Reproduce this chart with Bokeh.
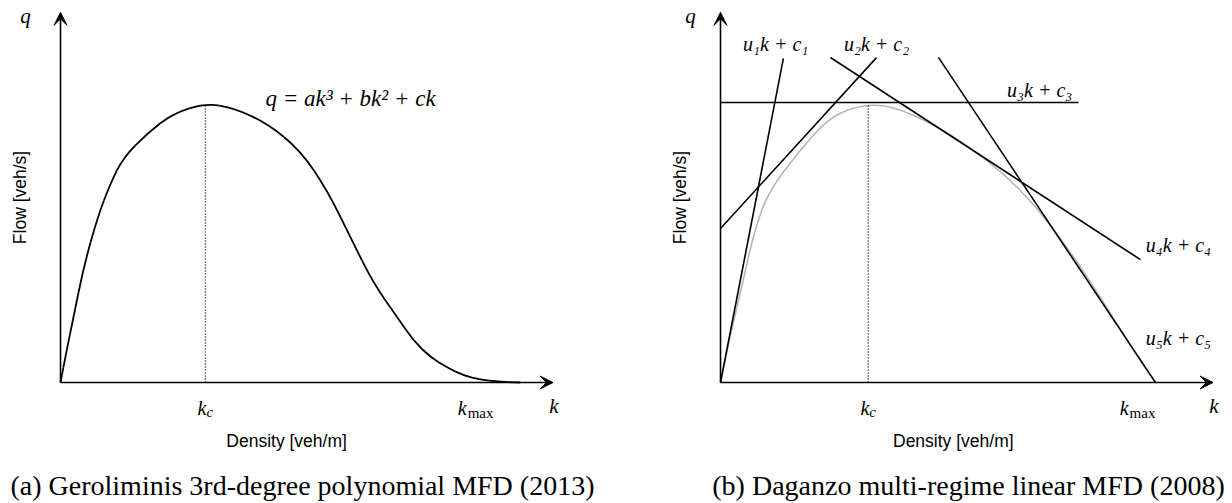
from bokeh.plotting import figure
from bokeh.layouts import row
from bokeh.models import Arrow, VeeHead
from bokeh.core.properties import value
from bokeh.embed import file_html
from bokeh.resources import INLINE
import math

# ---------------- data (arbitrary density / flow units) ----------------
# (a) Geroliminis 3rd-degree polynomial MFD
a_density = [0, 1.2, 2.7, 4.8, 7.7, 10.4, 13.1, 18.1, 23.5, 30.2, 36.0, 43.1, 50.0, 55.6,
             60.4, 65.2, 70.2, 73.5, 77.1, 80.6, 84.0, 87.5, 91.0, 95.8]
a_flow = [0, 6.5, 14.0, 24.7, 35.5, 42.8, 48.4, 53.6, 57.9, 60.0, 59.1, 55.7, 49.9, 41.3,
          31.2, 21.3, 14.0, 9.0, 5.4, 3.2, 1.5, 0.6, 0.2, 0]
a_kc = 30.2
a_qc = 60.0
a_kmax = 86.7

# (b) Daganzo multi-regime linear MFD
b_density = [0, 2.1, 4.6, 6.9, 9.8, 16.0, 22.9, 30.8, 37.5, 47.9, 58.3, 65.2, 72.3, 79.2, 86.0, 90.6]
b_flow = [0, 10.5, 21.3, 32.0, 40.7, 49.3, 57.4, 60.0, 58.9, 53.6, 45.6, 38.5, 29.0, 18.3, 6.9, 0]
b_kc = 30.8
b_qc = 60.0
b_kmax = 87.1
regime_u = [5.32, 1.131, 0.0, -0.673, -1.546]
regime_c = [0.0, 33.1, 60.2, 85.3, 140.1]
regime_k_from = [0.0, 0.0, 0.0, 22.9, 45.4]
regime_k_to = [13.1, 32.5, 74.6, 87.5, 90.6]
regime_labels = ["u₁k + c₁", "u₂k + c₂", "u₃k + c₃", "u₄k + c₄", "u₅k + c₅"]

axis_k_end = 102.6
axis_q_end = 79.6

captions = ["(a) Geroliminis 3rd-degree polynomial MFD (2013)",
            "(b) Daganzo multi-regime linear MFD (2008)"]

# ---------------- layout constants ----------------
SX, SY = 4.8, 4.65          # px per unit
W, H = 616, 503
ORIGIN_Y = 382

SERIF = value("Liberation Serif")
SANS = value("Liberation Sans")


def make_panel(origin_x):
    p = figure(width=W, height=H, output_backend="svg", toolbar_location=None,
               x_range=(-origin_x / SX, (W - origin_x) / SX),
               y_range=(-(H - ORIGIN_Y) / SY, ORIGIN_Y / SY),
               x_axis_location=None, y_axis_location=None,
               min_border=0, min_border_left=0, min_border_right=0,
               min_border_top=0, min_border_bottom=0)
    p.outline_line_color = None
    p.xgrid.visible = False
    p.ygrid.visible = False
    p.background_fill_color = "white"
    p.border_fill_color = "white"
    for xe, ye in [(axis_k_end, 0), (0, axis_q_end)]:
        p.add_layout(Arrow(end=VeeHead(size=13, fill_color="black", line_color="black", line_width=1),
                           x_start=0, y_start=0, x_end=xe, y_end=ye,
                           line_width=1.6, line_color="black"))
    return p


def smooth_curve(p, xs, ys, **kw):
    """Smooth rendering of the read points with quadratic Bezier pieces (library glyph)."""
    mx = [(xs[i] + xs[i + 1]) / 2 for i in range(len(xs) - 1)]
    my = [(ys[i] + ys[i + 1]) / 2 for i in range(len(ys) - 1)]
    p.segment(x0=[xs[0], mx[-1]], y0=[ys[0], my[-1]], x1=[mx[0], xs[-1]], y1=[my[0], ys[-1]], **kw)
    p.quadratic(x0=mx[:-1], y0=my[:-1], x1=mx[1:], y1=my[1:],
                cx=xs[1:-1], cy=ys[1:-1], **kw)


def txt(p, x, y, s, size, style="italic", font=SERIF, align="center", x_off=0, y_off=0, angle=0):
    p.text(x=[x], y=[y], text=[s], text_font=font, text_font_style=style,
           text_font_size=size, text_align=align, text_baseline="middle",
           x_offset=x_off, y_offset=y_off, angle=angle, text_color="black")


def common_labels(p, kc, kmax, density_x, q_off, caption, caption_x):
    lab_y = -25 / SY
    # k_c
    txt(p, kc, lab_y, "k", "20px", align="right", x_off=1)
    txt(p, kc, lab_y, "c", "15px", align="left", x_off=1, y_off=4)
    # k_max
    txt(p, kmax, lab_y, "k", "20px", align="right", x_off=-10)
    txt(p, kmax, lab_y, "max", "15px", style="normal", align="left", x_off=-9, y_off=5)
    # axis names
    txt(p, axis_k_end, lab_y + 0.4, "k", "21px", x_off=1)
    txt(p, 0, axis_q_end - 0.7, "q", "21px", x_off=q_off)
    # axis titles
    txt(p, density_x, -58 / SY, "Density [veh/m]", "17.5px", style="normal", font=SANS)
    txt(p, 0, (ORIGIN_Y - 197) / SY, "Flow [veh/s]", "17.5px", style="normal", font=SANS,
        x_off=-41, angle=math.pi / 2)
    # caption
    txt(p, caption_x, -103 / SY, caption, "28px", style="normal")


# ---------------- panel (a) ----------------
pa = make_panel(60)
smooth_curve(pa, a_density, a_flow, line_color="black", line_width=1.8)
pa.segment(x0=[a_kc], y0=[0], x1=[a_kc], y1=[a_qc], line_color="black",
           line_width=1.4, line_dash="1 2")
common_labels(pa, a_kc, a_kmax, 47.1, -35, captions[0], (302 - 60) / SX)
txt(pa, a_kc, a_qc, "q = ak³ + bk² + ck", "23px", align="left", x_off=60, y_off=-5)

# ---------------- panel (b) ----------------
pb = make_panel(104)
smooth_curve(pb, b_density, b_flow, line_color="#b5b5b5", line_width=1.6)
pb.segment(x0=[b_kc], y0=[0], x1=[b_kc], y1=[b_qc], line_color="black",
           line_width=1.4, line_dash="1 2")
ry0 = [u * k + c for u, k, c in zip(regime_u, regime_k_from, regime_c)]
ry1 = [u * k + c for u, k, c in zip(regime_u, regime_k_to, regime_c)]
pb.segment(x0=regime_k_from, y0=ry0, x1=regime_k_to, y1=ry1, line_color="black", line_width=1.6)
common_labels(pb, b_kc, b_kmax, 48.5, -30, captions[1], (968 - 720) / SX)

lab_pos = [(11.5, 72.7), (32.5, 72.7), (66.5, 62.8), (95.4, 29.5), (95.4, 9.5)]
for (lx, ly), s in zip(lab_pos, regime_labels):
    txt(pb, lx, ly, s, "20px")

layout = row(pa, pb, spacing=0)
open("out.html", "w").write(file_html(layout, INLINE))
